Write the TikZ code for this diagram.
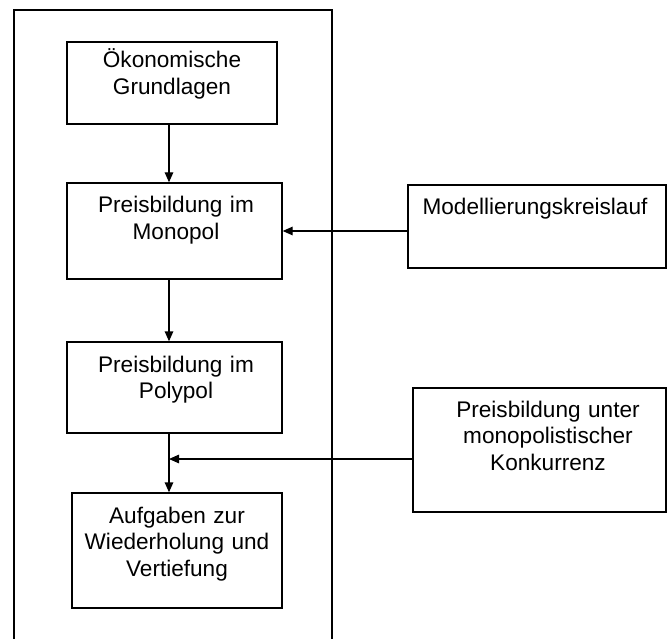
\documentclass[tikz,border=0pt]{standalone}
\usepackage{fontspec}
\setmainfont{Liberation Sans}
\usetikzlibrary{arrows.meta}
\begin{document}
\begin{tikzpicture}[x=1pt,y=-1pt,
  box/.style={draw,line width=1.3pt,minimum width=#1,inner sep=0pt},
  txt/.style={anchor=base,inner sep=0pt,text width=260pt,align=center,
    font=\fontsize{22.6pt}{26.5pt}\selectfont},
  arr/.style={line width=1.3pt,-{Triangle[length=10pt,width=8.5pt]}},
  ln/.style={line width=1.3pt}]
\useasboundingbox (0,0) rectangle (667,639);
\fill[white] (0,0) rectangle (667,639);
% outer frame
\draw[ln] (14,645) -- (14,10) -- (332,10) -- (332,645);
% boxes
\node[box=210pt,minimum height=82pt] (b1) at (172,83) {};
\node[box=215pt,minimum height=96pt] (b2) at (174.5,231) {};
\node[box=215pt,minimum height=91pt] (b3) at (174.5,387.5) {};
\node[box=210pt,minimum height=115pt] (b4) at (177,550.5) {};
\node[box=258pt,minimum height=83pt] (m) at (537,226.5) {};
\node[box=253pt,minimum height=124pt] (k) at (539.5,450) {};
% texts
\node[txt] (t1) at (172,68) {Ökonomische\\Grundlagen};
\node[txt] (t2) at (176,213) {Preisbildung im\\Monopol};
\node[txt] (t3) at (176,372) {Preisbildung im\\Polypol};
\node[txt] (t4) at (177,523) {Aufgaben zur\\Wiederholung und\\Vertiefung};
\node[txt] (tm) at (535,215) {Modellierungskreislauf};
\node[txt] (tk) at (548,417) {Preisbildung unter\\monopolistischer\\Konkurrenz};
% connectors
\coordinate (j) at (169,459);
\draw[arr] (b1.south -| j) -- (b2.north -| j);
\draw[arr] (b2.south -| j) -- (b3.north -| j);
\draw[arr] (b3.south -| j) -- (b4.north -| j);
\draw[arr] ([yshift=-4.5pt]m.west) -- ([yshift=-4.5pt]m.west -| b2.east);
\draw[arr] (k.west |- j) -- (j);
\end{tikzpicture}
\end{document}
